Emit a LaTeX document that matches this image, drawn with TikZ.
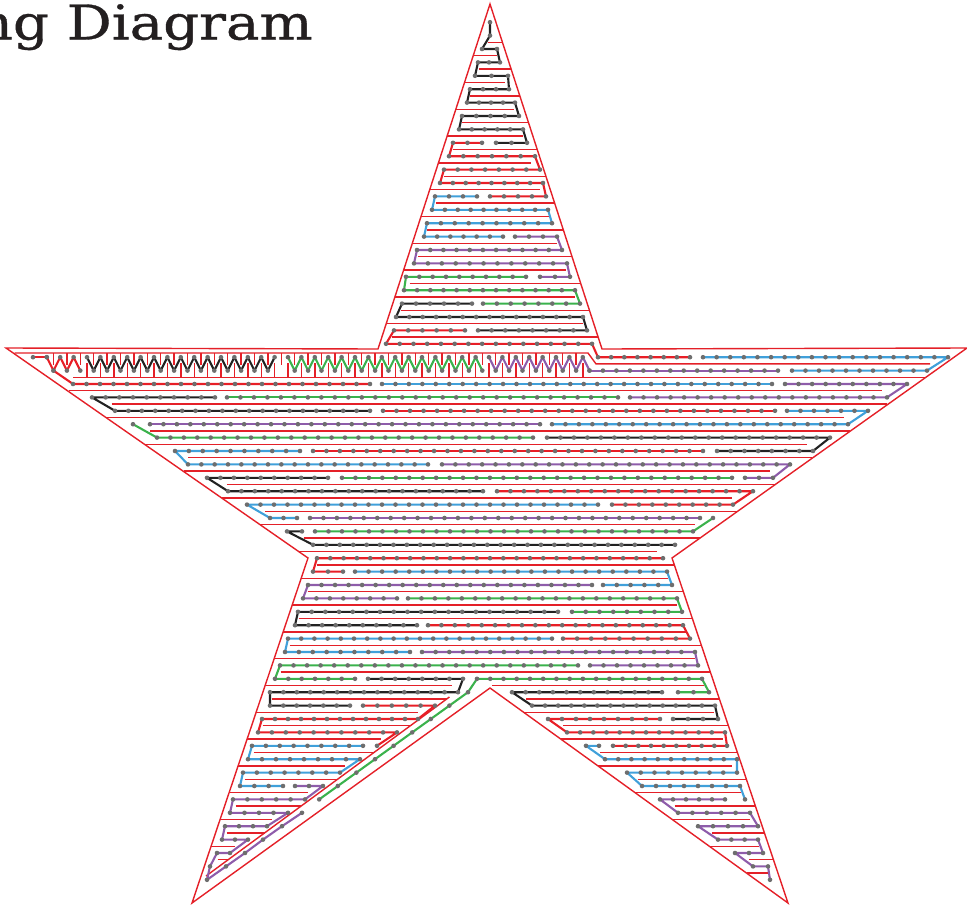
\documentclass[tikz,border=0pt]{standalone}
\usepackage{fontspec}
\newfontfamily\titlefont[FakeBold=0.7]{DejaVu Serif}
\usepackage{xcolor}
\definecolor{wallred}{RGB}{228,32,40}
\definecolor{pathred}{RGB}{232,30,38}
\definecolor{pathblue}{RGB}{64,160,218}
\definecolor{pathpurple}{RGB}{142,92,170}
\definecolor{pathgreen}{RGB}{58,178,76}
\definecolor{pathblack}{RGB}{34,34,34}
\definecolor{dotgray}{RGB}{110,110,110}
\definecolor{titlegray}{RGB}{35,31,32}

\tikzset{
  wall/.style={draw=wallred, line width=1.4pt},
  rim/.style={draw=wallred, line width=1.4pt},
  trailline/.style={line width=2.1pt, line join=round, line cap=round},
  pred/.style={trailline, draw=pathred},
  pblue/.style={trailline, draw=pathblue},
  ppurple/.style={trailline, draw=pathpurple},
  pgreen/.style={trailline, draw=pathgreen},
  pblack/.style={trailline, draw=pathblack},
}

% y of row k
\newcommand{\ry}[1]{22.2+13.4*#1}
% a trail: style, first x, first row, then x/row pairs
\newcommand{\trail}[4]{%
  \draw[#1] (#2,\ry{#3}) \foreach \px/\pk in {#4}{ -- (\px,\ry{\pk}) };
  \xdef\tx{#2}\xdef\tk{#3}%
  \fill[dotgray] (#2,\ry{#3}) circle[radius=2.3];
  \foreach \px/\pk in {#4}{%
    \ifnum\pk=\tk\relax
      \pgfmathtruncatemacro\tn{max(1,round(abs(\px-\tx)/13.4))}%
      \foreach \j in {1,...,\tn}{\fill[dotgray] ({\tx+(\px-\tx)*\j/\tn},\ry{\pk}) circle[radius=2.3];}%
    \else
      \fill[dotgray] (\px,\ry{\pk}) circle[radius=2.3];
    \fi
    \xdef\tx{\px}\xdef\tk{\pk}%
  }%
}
% zigzag between rows 25 and 26: style, first and last vertex
\newcommand{\zz}[3]{%
  \draw[#1] plot[samples at={#2,...,#3}] ({20+6.7*\x},{363.9+6.7*(2*mod(\x,2)-1)});
  \foreach \i in {#2,...,#3}{\fill[dotgray] ({20+6.7*\i},{363.9+6.7*(2*mod(\i,2)-1)}) circle[radius=2.3];}%
}

\begin{document}
\begin{tikzpicture}[x=1pt,y=-1pt]
  \useasboundingbox (0,0) rectangle (967,905);

  \node[anchor=base east, inner sep=0pt, xscale=1.17, text=titlegray,
        font=\titlefont\fontsize{48}{48}\selectfont] (title) at (313,39.5) {ng Diagram};

  % walls of the top spike
  \foreach \k in {1,...,23}{
    \pgfmathsetmacro\wy{28.9+13.4*\k}
    \pgfmathsetmacro\wl{490-(\wy-4)*0.3237}
    \pgfmathsetmacro\wr{490+(\wy-4)*0.3237}
    \ifodd\k \draw[wall] (\wl+10,\wy) -- (\wr,\wy); \else \draw[wall] (\wl,\wy) -- (\wr-10,\wy); \fi
  }
  % walls of the arms and the body
  \foreach \k in {26,...,48}{
    \pgfmathsetmacro\wy{28.9+13.4*\k}
    \ifnum\k<40
      \pgfmathsetmacro\wl{6+(\wy-347)*1.4313}
      \pgfmathsetmacro\wr{967-(\wy-347)*1.3981}
      \def\wg{24}
    \else
      \pgfmathsetmacro\wl{308-(\wy-558)*0.3362}
      \pgfmathsetmacro\wr{672+(\wy-558)*0.3362}
      \def\wg{11}
    \fi
    \ifodd\k \draw[wall] (\wl,\wy) -- (\wr-\wg,\wy); \else \draw[wall] (\wl+\wg,\wy) -- (\wr,\wy); \fi
  }
  \draw[wall] (265.1,685.5) -- (452,685.5);
  \draw[wall] (492,685.5) -- (704,685.5);
  % walls of the legs
  \foreach \k in {50,...,63}{
    \pgfmathsetmacro\wy{28.9+13.4*\k}
    \pgfmathsetmacro\wl{308-(\wy-558)*0.3362}
    \pgfmathsetmacro\wd{478-(\wy-676)*1.36}
    \pgfmathsetmacro\wi{490+(\wy-688)*1.386}
    \pgfmathsetmacro\wr{672+(\wy-558)*0.3362}
    \ifodd\k
      \pgfmathtruncatemacro\wok{(\wd-11>\wl+3)}
      \ifnum\wok=1 \draw[wall] (\wl,\wy) -- (\wd-11,\wy); \fi
      \draw[wall] (\wi,\wy) -- (\wr-10,\wy);
    \else
      \draw[wall] (\wl+11,\wy) -- (\wd,\wy);
      \draw[wall] (\wi+21,\wy) -- (\wr,\wy);
    \fi
  }
  \draw[wall] (449.4,697) -- (206,876);

  % comb under the arms
  \draw[wall] (14.6,353) -- (588,353) -- (596,363.9) -- (930,363.9);
  \foreach \i in {5,...,84}{
    \pgfmathsetmacro\zx{20+6.7*\i}
    \ifodd\i \draw[wall] (\zx,353) -- (\zx,365); \else \ifnum\i>8 \draw[wall] (\zx,377.3) -- (\zx,363); \fi\fi
  }

  % outline
  \draw[rim] (490,4) -- (602,349) -- (967,348) -- (672,558) -- (788,903) -- (490,688)
    -- (192,903) -- (308,558) -- (6,348) -- (378,349) -- cycle;

  % top spike
  \trail{pblack}{490}{0}{490/1, 482/2, 497/2, 500/3, 478/3, 475/4, 508/4, 509/5, 470/5, 467/6, 515/6, 519/7, 462/7, 459/8, 523/8, 527/9, 496/9}
  \trail{pred}{482}{9}{453/9, 449/10, 535/10, 540/11, 444/11, 440/12, 543/12, 546/13, 490/13}
  \trail{pblue}{477}{13}{435/13, 432/14, 548/14, 552/15, 427/15, 424/16, 503/16}
  \trail{ppurple}{515}{16}{557/16, 562/17, 417/17, 414/18, 567/18, 570/19, 540/19}
  \trail{pgreen}{526}{19}{406/19, 404/20, 575/20, 580/21, 483/21}
  \trail{pblack}{472}{21}{402/21, 396/22, 583/22, 587/23, 478/23}
  \trail{pred}{465}{23}{394/23, 386/24, 592/24, 598/25, 690/25}

  % zigzags
  \trail{pred}{33}{25}{46.8/25}
  \zz{pred}{4}{9}
  \zz{pblack}{10}{38}
  \zz{pgreen}{40}{69}
  \zz{ppurple}{70}{85}
  \trail{ppurple}{589.5}{26}{778/26}

  % arms
  \trail{pblue}{703}{25}{948/25, 927/26, 792/26}
  \trail{pred}{53.5}{26}{73/27, 370/27}
  \trail{pblue}{382}{27}{772/27}
  \trail{ppurple}{785}{27}{907/27, 887/28, 630/28}
  \trail{pblack}{215}{28}{92/28, 115/29, 370/29}
  \trail{pgreen}{227}{28}{618/28}
  \trail{pred}{383}{29}{775/29}
  \trail{pblue}{787}{29}{868/29, 848/30, 552/30}
  \trail{ppurple}{150}{30}{540/30}
  \trail{pgreen}{133}{30}{157/31, 533/31}
  \trail{pblack}{547}{31}{830/31, 813/32, 717/32}
  \trail{pblue}{300}{32}{175/32, 188/33, 428/33}
  \trail{pred}{313}{32}{703/32}
  \trail{ppurple}{442}{33}{790/33, 773/34, 745/34}
  \trail{pblack}{328}{34}{207/34, 228/35, 483/35}
  \trail{pgreen}{342}{34}{732/34}
  \trail{pred}{497}{35}{753/35, 733/36, 612/36}
  \trail{pblue}{598}{36}{247/36, 270/37, 297/37}
  \trail{ppurple}{310}{37}{700/37}
  \trail{pgreen}{713}{37}{693/38, 315/38}
  \trail{pblack}{302}{38}{287/38, 313/39, 675/39}

  % body
  \trail{pred}{663}{40}{317/40, 313/41, 343/41}
  \trail{pblue}{355}{41}{667/41, 672/42, 603/42}
  \trail{ppurple}{592}{42}{308/42, 303/43, 397/43}
  \trail{pgreen}{408}{43}{677/43, 682/44, 572/44}
  \trail{pblack}{558}{44}{298/44, 295/45, 417/45}
  \trail{pred}{428}{45}{683/45, 690/46, 563/46}
  \trail{pblue}{552}{46}{288/46, 285/47, 410/47}
  \trail{ppurple}{422}{47}{695/47, 698/48, 590/48}
  \trail{pgreen}{578}{48}{280/48, 275/49, 355/49}
  \trail{pblack}{368}{49}{463/49, 458/50, 270/50, 270/51, 350/51}
  \trail{pgreen}{678}{50}{709/50, 702/49, 477/49, 468/50, 449.4/51, 430.8/52, 412.2/53, 393.6/54, 375/55, 356.4/56, 337.8/57, 319.2/58}

  % left leg
  \trail{pred}{363}{51}{435/51, 418/52, 262/52, 258/53, 397/53, 377/54}
  \trail{pblue}{363}{54}{252/54, 248/55, 360/55, 340/56, 243/56, 240/57, 283/57}
  \trail{ppurple}{295}{57}{323/57, 305/58, 233/58, 230/59, 288/59, 267/60, 225/60, 222/61, 248/61, 230/62, 217/62, 210/63, 207/64, 226/63, 245/62, 263/61, 282/60, 302/59}

  % right leg
  \trail{pblack}{662}{50}{512/50, 532/51, 715/51, 718/52, 673/52}
  \trail{pred}{660}{52}{548/52, 567/53, 725/53, 727/54, 613/54}
  \trail{pblue}{599}{54}{586/54, 605/55, 737/55, 737/56, 627/56, 642/57, 740/57, 745/58}
  \trail{ppurple}{725}{58}{660/58, 678/59, 750/59, 758/60, 698/60, 718/61, 758/61, 763/62, 735/62, 753/63, 768/63, 770/64}
\end{tikzpicture}
\end{document}
